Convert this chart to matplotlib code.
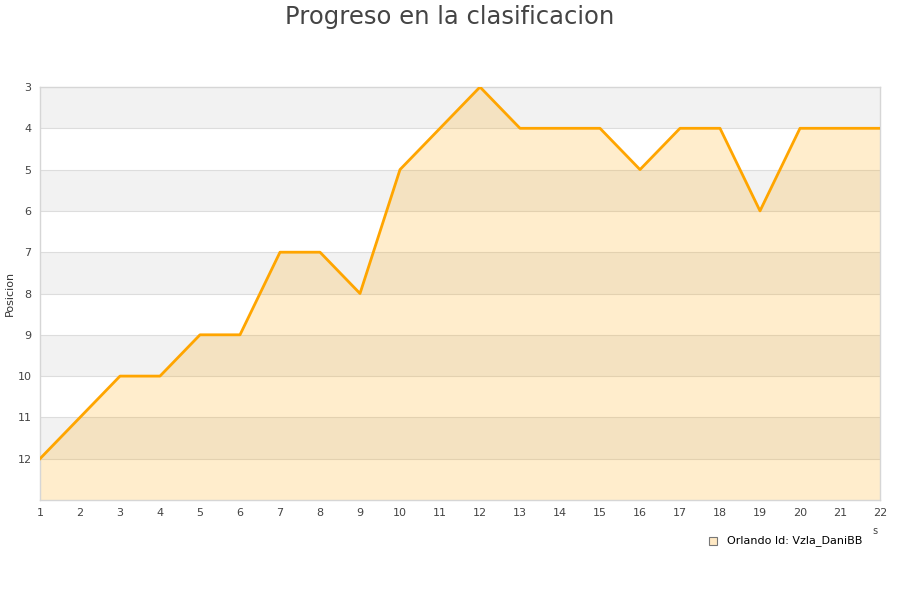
import numpy as np
import matplotlib
matplotlib.use('Agg')
from matplotlib import pyplot as plt

# data
jornadas = list(range(1, 23))
posicion = [12, 11, 10, 10, 9, 9, 7, 7, 8, 5, 4, 3, 4, 4, 4, 5, 4, 4, 6, 4, 4, 4]
y_ticks = list(range(3, 13))
serie_label = 'Orlando Id: Vzla_DaniBB'

fig = plt.figure(figsize=(9, 6), dpi=100)
ax = fig.add_axes([40/900, 1 - 500/600, 840/900, 413/600])

# alternating bands
for k in range(3, 13):
    if (k - 3) % 2 == 0:
        ax.axhspan(k, k + 1, color='#f2f2f2', zorder=0, lw=0)
for k in range(4, 13):
    ax.axhline(k, color='#dddddd', lw=0.8, zorder=1)

ax.fill_between(jornadas, posicion, 13, color='#FFA500', alpha=0.2, lw=0, zorder=2)
ax.plot(jornadas, posicion, color='#FFA500', lw=2.0, zorder=3)

ax.set_xlim(1, 22)
ax.set_ylim(13, 3)
ax.set_xticks(jornadas)
ax.set_yticks(y_ticks)
ax.tick_params(length=0, labelsize=8, colors='#444444', pad=6)
for s in ax.spines.values():
    s.set_color('#d6d6d6')
    s.set_linewidth(1)

fig.text(10/900, 1 - 293/600, 'Posicion', rotation=90, fontsize=8, color='#333333',
         ha='center', va='center')
fig.text(0.5, 1 - 17/600, 'Progreso en la clasificacion', ha='center', va='center',
         fontsize=17.5, color='#444444')
fig.text(875/900, 1 - 531/600, 's', fontsize=7, color='#444444', ha='center', va='center')

# legend
fig.patches.append(plt.Rectangle((709/900, 1 - 545/600), 8/900, 8/600,
                                 transform=fig.transFigure, facecolor='#FFE9C4',
                                 edgecolor='#777777', lw=0.8))
fig.text(727/900, 1 - 541/600, serie_label, fontsize=8, color='#000000', va='center')

fig.savefig('out.png', dpi=100)
